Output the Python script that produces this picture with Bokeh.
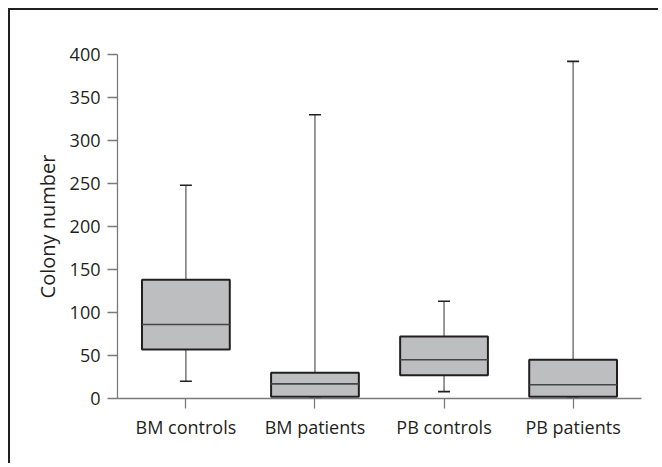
from bokeh.plotting import figure
from bokeh.models import FactorRange, FixedTicker, ColumnDataSource
from bokeh.transform import dodge
from bokeh.embed import file_html
from bokeh.resources import INLINE

categories = ["BM controls", "BM patients", "PB controls", "PB patients"]
upper = [248, 330, 113, 392]
q3 = [138, 30, 72, 45]
median = [86, 17, 45, 16]
q1 = [57, 2, 27, 2]
lower = [20, 2, 8, 2]
y_ticks = [0, 50, 100, 150, 200, 250, 300, 350, 400]

FONT = "Open Sans"
TEXT = "#231f20"
AXIS = "#7a7a7a"
BOX_W = 0.68

src = ColumnDataSource(dict(cat=categories, upper=upper, q3=q3, median=median, q1=q1, lower=lower))

xr = FactorRange(factors=categories, range_padding=0.03, range_padding_units="absolute")
p = figure(
    x_range=xr,
    y_range=(0, 400),
    width=650, height=455,
    min_border_left=107, min_border_right=19, min_border_top=44, min_border_bottom=67,
    output_backend="svg", toolbar_location=None,
)
p.styles = {"border-top": "2px solid #231f20", "border-left": "2px solid #231f20",
            "margin-left": "8px", "margin-top": "8px"}
p.outline_line_color = None
p.xgrid.grid_line_color = None
p.ygrid.grid_line_color = None
p.background_fill_color = "white"
p.border_fill_color = "white"

# whisker stems
p.segment(x0="cat", y0="q3", x1="cat", y1="upper", source=src, line_color="#555555", line_width=1.2)
p.segment(x0="cat", y0="q1", x1="cat", y1="lower", source=src, line_color="#555555", line_width=1.2)
# caps
p.dash(x="cat", y="upper", source=src, size=12, line_color=TEXT, line_width=1.6)
p.dash(x="cat", y="lower", source=src, size=12, line_color=TEXT, line_width=1.6)
# boxes
p.vbar(x="cat", top="q3", bottom="q1", width=BOX_W, source=src,
       fill_color="#bcbec0", line_color=TEXT, line_width=2)
# medians
p.segment(x0=dodge("cat", -BOX_W / 2, range=xr), y0="median",
          x1=dodge("cat", BOX_W / 2, range=xr), y1="median",
          source=src, line_color="#444444", line_width=1.6)

p.yaxis.ticker = FixedTicker(ticks=y_ticks)
p.yaxis.axis_label = "Colony number"
for ax in (p.xaxis[0], p.yaxis[0]):
    ax.axis_line_color = AXIS
    ax.axis_line_width = 1.3
    ax.major_tick_line_color = AXIS
    ax.major_tick_line_width = 1.3
    ax.major_tick_out = 10
    ax.major_tick_in = 0
    ax.minor_tick_line_color = None
    ax.major_label_text_font = FONT
    ax.major_label_text_font_size = "18px"
    ax.major_label_text_color = TEXT
    ax.axis_label_text_font = FONT
    ax.axis_label_text_font_size = "20px"
    ax.axis_label_text_font_style = "normal"
    ax.axis_label_text_color = TEXT
p.yaxis.major_label_standoff = 7
p.yaxis.axis_label_standoff = 6
p.xaxis.major_label_standoff = 6

open("out.html", "w").write(file_html(p, INLINE))
